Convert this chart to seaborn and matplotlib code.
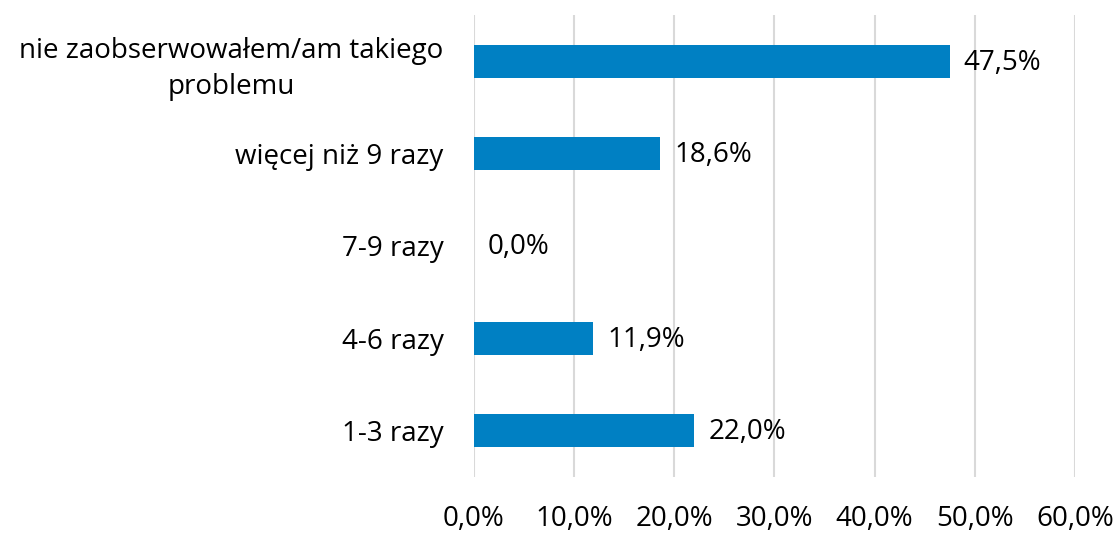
import pandas as pd
import seaborn as sns
import matplotlib.pyplot as plt
from matplotlib.ticker import FuncFormatter

# data (top to bottom)
categories = ["nie zaobserwowałem/am takiego\nproblemu", "więcej niż 9 razy",
              "7-9 razy", "4-6 razy", "1-3 razy"]
shares = [47.5, 18.6, 0.0, 11.9, 22.0]
x_ticks = [0, 10, 20, 30, 40, 50, 60]

df = pd.DataFrame({"kategoria": categories, "udzial": shares})

sns.set_theme(style="white")
plt.rcParams['font.family'] = ['Open Sans', 'DejaVu Sans']

fig = plt.figure(figsize=(11.17, 5.34), dpi=100)
ax = fig.add_axes([0.4243, 0.1067, 0.5381, 0.8653])

sns.barplot(data=df, x="udzial", y="kategoria", orient="h", color="#0080C3",
            saturation=1, width=0.36, linewidth=0, ax=ax, zorder=3)

ax.set_xlim(0, 60)
ax.set_ylim(4.5, -0.5)
ax.set_xticks(x_ticks)
ax.xaxis.set_major_formatter(FuncFormatter(lambda v, p: f"{v:.1f}%".replace(".", ",")))
ax.grid(axis="x", color="#D9D9D9", linewidth=1.5, zorder=0)
ax.grid(axis="y", visible=False)
for s in ax.spines.values():
    s.set_visible(False)
ax.tick_params(axis="both", length=0, labelsize=20, colors="black")
ax.tick_params(axis="x", pad=20)
ax.tick_params(axis="y", pad=22)
for lbl in ax.get_yticklabels():
    lbl.set_multialignment("center")
    lbl.set_linespacing(1.4)
ax.set_xlabel("")
ax.set_ylabel("")

# value labels
for i, v in enumerate(shares):
    ax.annotate(f"{v:.1f}%".replace(".", ","), xy=(v, i), xytext=(10, -1),
                textcoords="offset points", va="center", ha="left",
                fontsize=20, color="black")

plt.savefig("out.png", dpi=100)
